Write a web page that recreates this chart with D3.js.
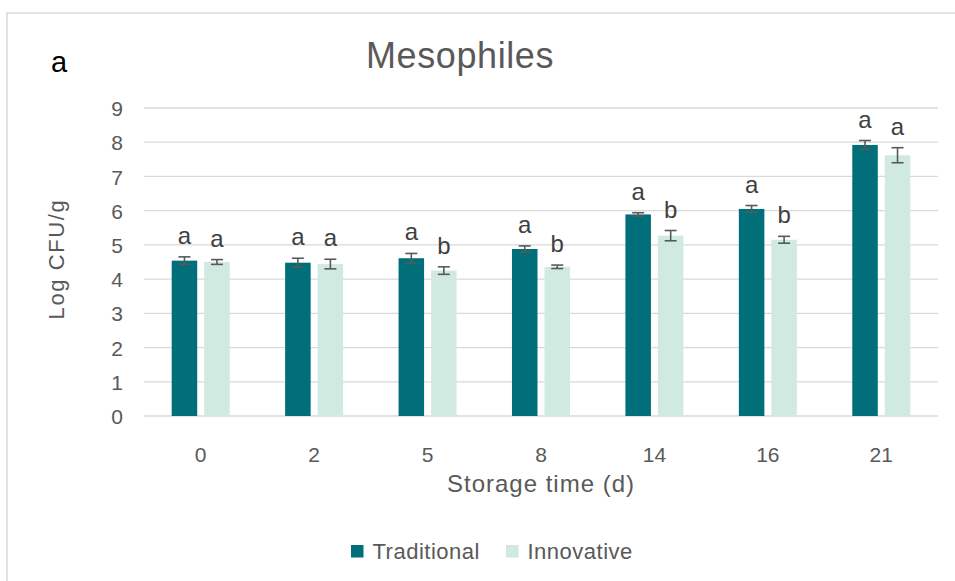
<!DOCTYPE html>
<html>
<head>
<meta charset="utf-8">
<script src="https://cdn.jsdelivr.net/npm/d3@7"></script>
<style>
html,body{margin:0;padding:0;background:#fff;}
svg{display:block;}
text{font-family:"Liberation Sans",Arial,sans-serif;}
</style>
</head>
<body>
<svg id="chart" width="955" height="581"></svg>
<script>
const categories = ["0","2","5","8","14","16","21"];
const seriesNames = ["Traditional","Innovative"];
const traditional = [4.54,4.48,4.61,4.88,5.89,6.05,7.92];
const traditionalErr = [0.11,0.13,0.14,0.09,0.05,0.10,0.13];
const innovative = [4.50,4.44,4.25,4.36,5.27,5.15,7.62];
const innovativeErr = [0.07,0.14,0.11,0.05,0.15,0.10,0.22];
const traditionalLetters = ["a","a","a","a","a","a","a"];
const innovativeLetters = ["a","a","b","b","b","b","a"];
const yTicks = [0,1,2,3,4,5,6,7,8,9];
const colors = ["#006F79","#D0EAE2"];
const textColor = "#595959";

const svg = d3.select("#chart");

// outer chart border
svg.append("rect").attr("x",7).attr("y",13).attr("width",980).attr("height",620)
  .attr("fill","none").attr("stroke","#d9d9d9").attr("stroke-width",1.5);

const x = d3.scaleBand().domain(categories).range([144,938]).padding(0);
const xs = d3.scaleBand().domain(seriesNames).range([0,x.bandwidth()]).paddingInner(0.215).paddingOuter(0.852);
const y = d3.scaleLinear().domain([0,9]).range([416,108]);

// gridlines
svg.append("g").selectAll("line").data(yTicks).join("line")
  .attr("x1",144).attr("x2",938)
  .attr("y1",d=>y(d)).attr("y2",d=>y(d))
  .attr("stroke","#d9d9d9").attr("stroke-width",1.3);

// y axis labels
const yAxis = d3.axisLeft(y).tickValues(yTicks).tickSize(0).tickPadding(0).tickFormat(d3.format("d"));
const yg = svg.append("g").attr("transform","translate(123,0)").call(yAxis);
yg.select(".domain").remove();
yg.selectAll("text").attr("fill",textColor).style("font-size","21px").attr("dy","0.36em");

// x axis labels
const xAxis = d3.axisBottom(x).tickSize(0).tickPadding(0);
const xg = svg.append("g").attr("transform","translate(0,416)").call(xAxis);
xg.select(".domain").remove();
xg.selectAll("text").attr("fill",textColor).style("font-size","21px").attr("dy","0").attr("y",46);

const series = [
  {name:"Traditional", values:traditional, err:traditionalErr, letters:traditionalLetters, color:colors[0]},
  {name:"Innovative", values:innovative, err:innovativeErr, letters:innovativeLetters, color:colors[1]}
];

series.forEach(s=>{
  const g = svg.append("g");
  const data = categories.map((c,i)=>({c, v:s.values[i], e:s.err[i], l:s.letters[i]}));
  const cx = d => x(d.c)+xs(s.name)+xs.bandwidth()/2;
  g.selectAll("rect").data(data).join("rect")
    .attr("x",d=>x(d.c)+xs(s.name)).attr("width",xs.bandwidth())
    .attr("y",d=>y(d.v)).attr("height",d=>y(0)-y(d.v))
    .attr("fill",s.color);
  // error bars
  const eb = g.selectAll("g.eb").data(data).join("g").attr("class","eb")
    .attr("stroke","#595959").attr("stroke-width",1.6);
  eb.append("line").attr("x1",cx).attr("x2",cx).attr("y1",d=>y(d.v+d.e)).attr("y2",d=>y(d.v-d.e));
  eb.append("line").attr("x1",d=>cx(d)-6).attr("x2",d=>cx(d)+6).attr("y1",d=>y(d.v+d.e)).attr("y2",d=>y(d.v+d.e));
  eb.append("line").attr("x1",d=>cx(d)-6).attr("x2",d=>cx(d)+6).attr("y1",d=>y(d.v-d.e)).attr("y2",d=>y(d.v-d.e));
  // letters
  g.selectAll("text").data(data).join("text")
    .attr("x",cx).attr("y",d=>y(d.v+d.e)-13)
    .attr("text-anchor","middle").attr("fill","#404040").style("font-size","24px")
    .text(d=>d.l);
});

// title
svg.append("text").attr("x",460).attr("y",68).attr("text-anchor","middle")
  .attr("fill",textColor).style("font-size","36px").style("letter-spacing","0.6px").text("Mesophiles");
// panel label
svg.append("text").attr("x",51).attr("y",72).attr("fill","#000").style("font-size","29px").text("a");

// axis titles
svg.append("text").attr("x",541).attr("y",492).attr("text-anchor","middle")
  .attr("fill",textColor).style("font-size","24px").style("letter-spacing","1px").text("Storage time (d)");
svg.append("text").attr("transform","translate(63.5,259) rotate(-90)").attr("text-anchor","middle")
  .attr("fill",textColor).style("font-size","22px").style("letter-spacing","1.6px").text("Log CFU/g");

// legend
const legendX = [351,506];
const lg = svg.append("g");
series.forEach((s,i)=>{
  lg.append("rect").attr("x",legendX[i]).attr("y",545).attr("width",12.5).attr("height",12.5).attr("fill",s.color);
  lg.append("text").attr("x",legendX[i]+21.5).attr("y",559).attr("fill",textColor)
    .style("font-size","22px").style("letter-spacing","0.5px").text(s.name);
});
</script>
</body>
</html>
